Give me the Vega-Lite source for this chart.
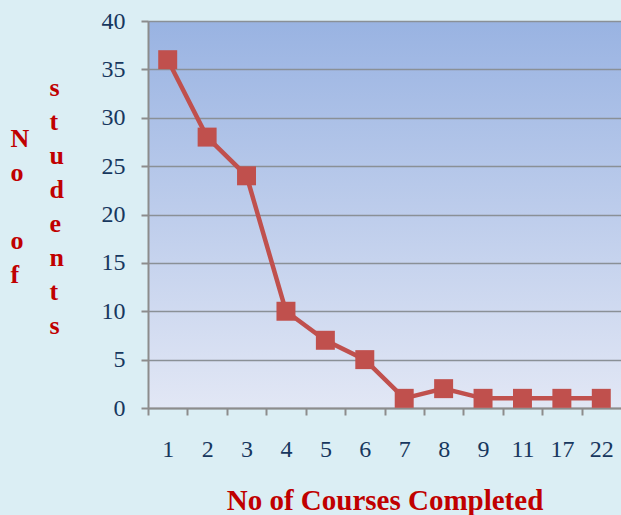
{
  "$schema": "https://vega.github.io/schema/vega-lite/v6.json",
  "width": 473,
  "height": 387,
  "autosize": {"type": "none"},
  "padding": {"left": 148, "top": 21, "right": 0, "bottom": 107},
  "background": "#dbeef4",
  "config": {
    "view": {
      "stroke": null,
      "fill": {
        "gradient": "linear",
        "x1": 0, "y1": 0, "x2": 0, "y2": 1,
        "stops": [
          {"offset": 0, "color": "#99b3e2"},
          {"offset": 1, "color": "#e2e7f5"}
        ]
      }
    },
    "font": "Liberation Serif"
  },
  "data": {
    "values": [
      {"courses": "1", "students": 36},
      {"courses": "2", "students": 28},
      {"courses": "3", "students": 24},
      {"courses": "4", "students": 10},
      {"courses": "5", "students": 7},
      {"courses": "6", "students": 5},
      {"courses": "7", "students": 1},
      {"courses": "8", "students": 2},
      {"courses": "9", "students": 1},
      {"courses": "11", "students": 1},
      {"courses": "17", "students": 1},
      {"courses": "22", "students": 1}
    ]
  },
  "encoding": {
    "x": {
      "field": "courses",
      "type": "ordinal",
      "sort": null,
      "scale": {"type": "point", "padding": 0.5},
      "axis": {
        "title": "No of Courses Completed",
        "titleFont": "Liberation Serif",
        "titleFontSize": 29,
        "titleFontWeight": "bold",
        "titleColor": "#c00000",
        "titlePadding": 25,
        "labelAngle": 0,
        "labelFont": "Liberation Serif",
        "labelFontSize": 24,
        "labelColor": "#17375e",
        "labelPadding": 22,
        "tickOffset": -19.7,
        "labelOffset": 19.7,
        "tickSize": 7,
        "tickColor": "#8c8c8c",
        "tickWidth": 2,
        "domainColor": "#8c8c8c",
        "domainWidth": 2,
        "grid": false
      }
    },
    "y": {
      "field": "students",
      "type": "quantitative",
      "scale": {"domain": [0, 40], "nice": false},
      "axis": {
        "values": [0, 5, 10, 15, 20, 25, 30, 35, 40],
        "title": ["\u200b\u00a0\u00a0\u00a0\u00a0\u00a0\u00a0s", "\u200b", "\u200b\u00a0\u00a0\u00a0\u00a0\u00a0\u00a0t", "N", "\u200b\u00a0\u00a0\u00a0\u00a0\u00a0\u00a0u", "o", "\u200b\u00a0\u00a0\u00a0\u00a0\u00a0\u00a0d", "\u200b", "\u200b\u00a0\u00a0\u00a0\u00a0\u00a0\u00a0e", "o", "\u200b\u00a0\u00a0\u00a0\u00a0\u00a0\u00a0n", "f", "\u200b\u00a0\u00a0\u00a0\u00a0\u00a0\u00a0t", "\u200b", "\u200b\u00a0\u00a0\u00a0\u00a0\u00a0\u00a0s"],
        "titleAngle": 0,
        "titleAlign": "left",
        "titleBaseline": "alphabetic",
        "titleX": -138,
        "titleY": 74,
        "titleLineHeight": 17,
        "titleFont": "Liberation Serif",
        "titleFontSize": 26,
        "titleFontWeight": "bold",
        "titleColor": "#c00000",
        "labelFont": "Liberation Serif",
        "labelFontSize": 24,
        "labelColor": "#17375e",
        "labelPadding": 16,
        "tickSize": 7,
        "tickColor": "#8c8c8c",
        "tickWidth": 2,
        "domainColor": "#8c8c8c",
        "domainWidth": 2,
        "gridColor": "#8a9096",
        "gridWidth": 1.5,
        "gridOpacity": 1
      }
    }
  },
  "layer": [
    {"mark": {"type": "line", "color": "#c0504d", "strokeWidth": 4.5}},
    {"mark": {"type": "point", "shape": "square", "filled": true, "size": 360, "color": "#c0504d", "opacity": 1}}
  ]
}
